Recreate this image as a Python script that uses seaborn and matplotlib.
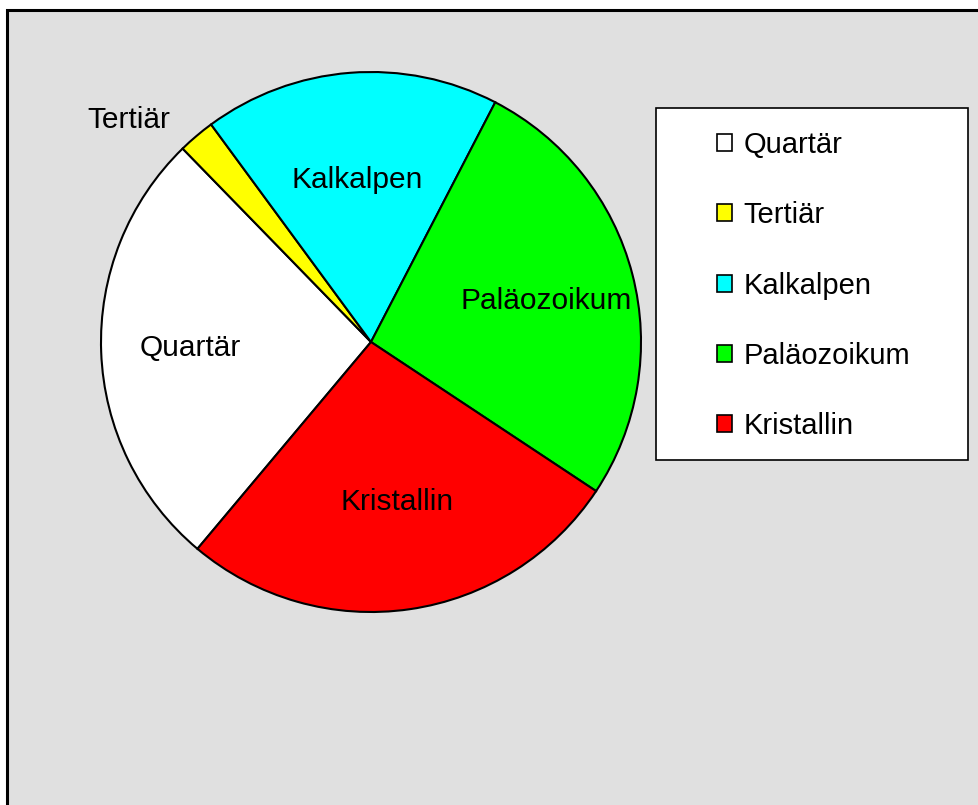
"""
Camembert : répartition des unités géologiques (Quartär, Tertiär, Kalkalpen, Paläozoikum, Kristallin).
"""

import matplotlib
matplotlib.use("Agg")
import matplotlib.pyplot as plt
from matplotlib.patches import Rectangle
import numpy as np
import seaborn as sns

# Données (parts en %)
categories = ["Quartär", "Tertiär", "Kalkalpen", "Paläozoikum", "Kristallin"]
shares = [26.6, 2.2, 17.7, 26.7, 26.8]
slice_colors = ["#FFFFFF", "#FFFF00", "#00FFFF", "#00FF00", "#FF0000"]

sns.set_theme(style="white")
plt.rcParams['font.family'] = ['Liberation Sans', 'DejaVu Sans']
plt.rcParams['text.color'] = 'black'

W, H = 979, 805
fig = plt.figure(figsize=(W / 100, H / 100), dpi=100, facecolor="white")

# fond gris avec bordure (style Excel)
fig.patches.append(Rectangle((7 / W, -0.1), 1.2, 1 - 10 / H + 0.1,
                             transform=fig.transFigure, facecolor="#E0E0E0",
                             edgecolor="black", linewidth=2.2, zorder=-5))

# axes du camembert : centre (371, 342), rayon 270 px
cx, cy, r = 371, 342, 270
ax = fig.add_axes([(cx - r) / W, (H - cy - r) / H, 2 * r / W, 2 * r / H])
ax.set_facecolor("none")
ax.set_zorder(2)

wedges, _ = ax.pie(shares, colors=slice_colors, startangle=230, counterclock=False,
                   wedgeprops=dict(edgecolor="black", linewidth=1.5))
ax.set_xlim(-1, 1)
ax.set_ylim(-1, 1)
ax.set_aspect("equal")
ax.axis("off")

total = sum(shares)
for w, name, val in zip(wedges, categories, shares):
    mid = np.deg2rad((w.theta1 + w.theta2) / 2)
    if val / total < 0.05:
        # petite part : étiquette à l'extérieur
        ax.text(1.08 * np.cos(mid) - 0.045, 1.08 * np.sin(mid), name,
                ha="right", va="center", fontsize=21.5, color="black")
    else:
        ax.text(0.67 * np.cos(mid), 0.60 * np.sin(mid), name,
                ha="center", va="center", fontsize=21.5, color="black")

# cadre de la légende
fig.patches.append(Rectangle((656 / W, 1 - 460 / H), (968 - 656) / W, (460 - 108) / H,
                             transform=fig.transFigure, facecolor="white",
                             edgecolor="black", linewidth=1.2, zorder=1))

leg = fig.legend(wedges, categories, loc="upper left",
                 bbox_to_anchor=(717 / W, 1 - 131 / H), frameon=False,
                 fontsize=21, handlelength=0.52, handleheight=0.52,
                 handletextpad=0.38, labelspacing=1.45, borderpad=0, borderaxespad=0)
leg.set_zorder(3)
for t in leg.get_texts():
    t.set_color("black")
for h in leg.legend_handles:
    h.set_linewidth(1.2)

fig.savefig("out.png", dpi=100)
